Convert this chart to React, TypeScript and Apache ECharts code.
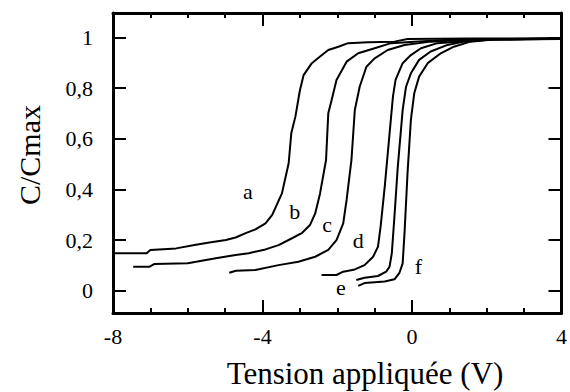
import React, { useEffect, useRef } from "react";
import * as echarts from "echarts";

const xTicks = [-8, -4, 0, 4];
const yTicks = [0, 0.2, 0.4, 0.6, 0.8, 1];

const curveA: [number, number][] = [
  [-8, 0.148], [-7.1, 0.148], [-7.0, 0.161], [-6.31, 0.167], [-5.82, 0.18], [-5.42, 0.19],
  [-4.98, 0.2], [-4.72, 0.21], [-4.45, 0.227], [-4.19, 0.242], [-3.92, 0.266], [-3.74, 0.299],
  [-3.48, 0.384], [-3.3, 0.503], [-3.23, 0.621], [-3.12, 0.687], [-3.0, 0.79], [-2.9, 0.851],
  [-2.68, 0.898], [-2.46, 0.924], [-2.24, 0.95], [-1.97, 0.963], [-1.71, 0.977], [-1.18, 0.981],
  [-0.47, 0.983], [-0.12, 0.993], [1.5, 0.995], [4, 0.995],
];
const curveB: [number, number][] = [
  [-7.46, 0.095], [-7.02, 0.095], [-6.9, 0.105], [-6.0, 0.108], [-5.25, 0.128], [-4.72, 0.141],
  [-4.37, 0.148], [-3.92, 0.163], [-3.57, 0.18], [-3.21, 0.207], [-2.95, 0.227], [-2.73, 0.259],
  [-2.59, 0.305], [-2.46, 0.384], [-2.3, 0.516], [-2.24, 0.7], [-2.15, 0.753], [-2.02, 0.832],
  [-1.75, 0.904], [-1.44, 0.937], [-1.0, 0.957], [-0.56, 0.977], [0.06, 0.983], [1.0, 0.99], [4, 0.993],
];
const curveC: [number, number][] = [
  [-4.89, 0.071], [-4.71, 0.079], [-4.19, 0.082], [-3.57, 0.101], [-3.04, 0.114], [-2.59, 0.134],
  [-2.24, 0.161], [-2.02, 0.2], [-1.84, 0.266], [-1.75, 0.358], [-1.62, 0.516], [-1.53, 0.713],
  [-1.4, 0.805], [-1.22, 0.884], [-1.0, 0.917], [-0.65, 0.95], [-0.2, 0.97], [0.5, 0.983],
  [1.5, 0.99], [4, 0.994],
];
const curveD: [number, number][] = [
  [-2.42, 0.062], [-2.02, 0.062], [-1.84, 0.075], [-1.53, 0.084], [-1.27, 0.101], [-1.04, 0.134],
  [-0.91, 0.174], [-0.84, 0.253], [-0.73, 0.41], [-0.6, 0.621], [-0.51, 0.766], [-0.44, 0.832],
  [-0.25, 0.898], [-0.03, 0.93], [0.24, 0.957], [0.68, 0.977], [1.21, 0.983], [2.0, 0.992], [4, 0.995],
];
const curveE: [number, number][] = [
  [-1.49, 0.042], [-1.27, 0.051], [-0.91, 0.058], [-0.69, 0.075], [-0.6, 0.095], [-0.54, 0.148],
  [-0.47, 0.292], [-0.38, 0.49], [-0.25, 0.713], [-0.16, 0.805], [-0.03, 0.858], [0.19, 0.911],
  [0.5, 0.944], [0.95, 0.97], [1.39, 0.983], [2.2, 0.992], [4, 0.995],
];
const curveF: [number, number][] = [
  [-1.44, 0.019], [-1.27, 0.03], [-0.73, 0.036], [-0.47, 0.045], [-0.34, 0.069], [-0.25, 0.108],
  [-0.2, 0.227], [-0.12, 0.463], [-0.03, 0.674], [0.06, 0.779], [0.19, 0.845], [0.42, 0.898],
  [0.77, 0.937], [1.12, 0.963], [1.56, 0.983], [2.3, 0.993], [4, 0.996],
];

const curveNames = ["a", "b", "c", "d", "e", "f"];
const curves = [curveA, curveB, curveC, curveD, curveE, curveF];
const labelPositions: [number, number][] = [
  [-4.39, 0.391], [-3.14, 0.312], [-2.27, 0.263], [-1.44, 0.197], [-1.9, 0.013], [0.17, 0.095],
];

const FONT = "Liberation Serif";

export default function App() {
  const ref = useRef<HTMLDivElement>(null);
  useEffect(() => {
    if (!ref.current) return;
    const chart = echarts.init(ref.current, undefined, { renderer: "svg" });
    const mkX = (position: string, showLabel: boolean) => ({
      type: "value",
      position,
      min: -8,
      max: 4,
      interval: 4,
      axisLine: { show: true, onZero: false, lineStyle: { color: "black", width: 3 } },
      axisTick: { show: true, inside: true, length: 13, lineStyle: { color: "black", width: 2 } },
      minorTick: { show: true, splitNumber: 4, length: 5, lineStyle: { color: "black", width: 2 } },
      splitLine: { show: false },
      axisLabel: { show: showLabel, fontFamily: FONT, fontSize: 22, color: "black", margin: 12 },
    });
    const mkY = (position: string, showLabel: boolean) => ({
      type: "value",
      position,
      min: -0.088,
      max: 1.096,
      axisLine: { show: true, onZero: false, lineStyle: { color: "black", width: 3 } },
      axisTick: {
        show: true,
        inside: true,
        length: 13,
        customValues: yTicks,
        lineStyle: { color: "black", width: 2 },
      },
      splitLine: { show: false },
      axisLabel: {
        show: showLabel,
        fontFamily: FONT,
        fontSize: 22,
        color: "black",
        margin: 20,
        customValues: yTicks,
        formatter: (v: number) => String(v).replace(".", ","),
      },
    });
    chart.setOption({
      animation: false,
      grid: { left: 113, right: 5, top: 13, bottom: 79 },
      xAxis: [mkX("bottom", true), mkX("top", false)],
      yAxis: [mkY("left", true), mkY("right", false)],
      series: curves.map((c) => ({
        type: "line",
        data: c,
        showSymbol: false,
        lineStyle: { color: "black", width: 2 },
      })),
    });
    const labelTexts = labelPositions.map((p, i) => {
      const px = chart.convertToPixel({ gridIndex: 0 }, p) as number[];
      return {
        type: "text",
        x: px[0],
        y: px[1],
        style: {
          text: curveNames[i],
          fontFamily: FONT,
          fontSize: 22,
          fill: "black",
          align: "center",
          verticalAlign: "middle",
        },
      };
    });
    chart.setOption({
      graphic: [
        {
          type: "text",
          x: 365,
          y: 373,
          style: {
            text: "Tension appliquée (V)",
            fontFamily: FONT,
            fontSize: 31,
            fill: "black",
            align: "center",
            verticalAlign: "middle",
          },
        },
        {
          type: "text",
          x: 29,
          y: 155,
          rotation: Math.PI / 2,
          style: {
            text: "C/Cmax",
            fontFamily: FONT,
            fontSize: 30,
            fill: "black",
            align: "center",
            verticalAlign: "middle",
          },
        },
        ...labelTexts,
      ],
    });
    return () => chart.dispose();
  }, []);
  return (
    <div
      ref={ref}
      style={{ position: "absolute", left: 0, top: 0, width: 570, height: 392 }}
    />
  );
}
